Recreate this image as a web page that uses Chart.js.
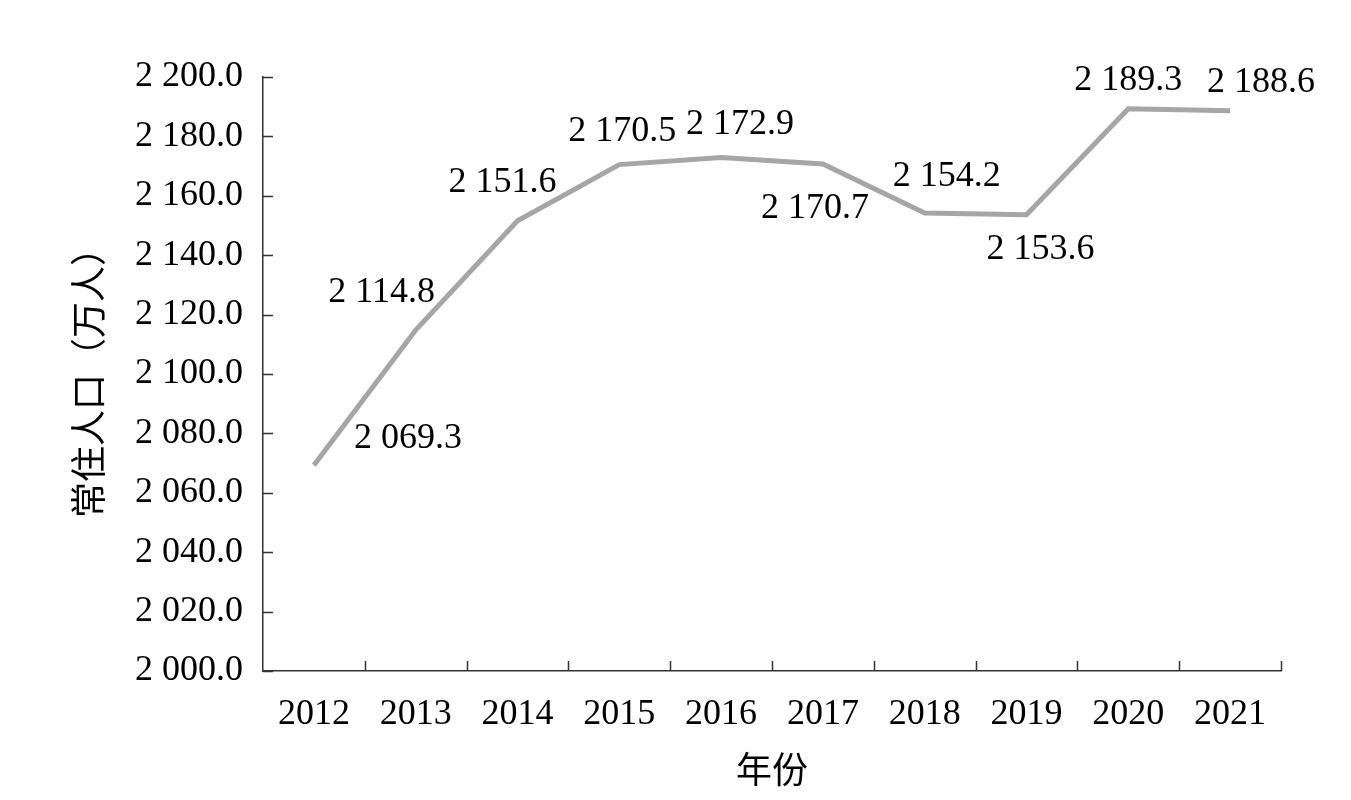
<!DOCTYPE html>
<html>
<head>
<meta charset="utf-8">
<script src="https://cdn.jsdelivr.net/npm/chart.js@4.4.1/dist/chart.umd.min.js"></script>
<style>
  html, body { margin: 0; background: #fff; }
</style>
</head>
<body>
<canvas id="chart-pop" width="1351" height="800"></canvas>
<script>
// data
const years = ['2012', '2013', '2014', '2015', '2016', '2017', '2018', '2019', '2020', '2021'];
const population = [2069.3, 2114.8, 2151.6, 2170.5, 2172.9, 2170.7, 2154.2, 2153.6, 2189.3, 2188.6];
const yMin = 2000;
const yMax = 2200;
const yStep = 20;

const serif = "'Liberation Serif', 'Times New Roman', 'Noto Sans CJK SC', serif";

// "2 200.0" style numbers
function fmt(v) {
  const parts = Number(v).toFixed(1).split('.');
  return parts[0].replace(/\B(?=(\d{3})+(?!\d))/g, ' ') + '.' + parts[1];
}

// labels sit around the points, not all on one side
const labelShift = [
  [94, -27], [-34, -37], [-15, -38], [3, -33], [19, -33],
  [-8, 45], [22, -36], [14, 35], [0, -28], [31, -28]
];

const valueLabels = {
  id: 'valueLabels',
  afterDatasetsDraw(chart) {
    const ctx = chart.ctx;
    const meta = chart.getDatasetMeta(0);
    ctx.save();
    ctx.font = '36px ' + serif;
    ctx.fillStyle = '#000';
    ctx.textAlign = 'center';
    ctx.textBaseline = 'middle';
    meta.data.forEach((pt, i) => {
      const s = labelShift[i];
      ctx.fillText(fmt(population[i]), pt.x + s[0], pt.y + s[1]);
    });
    ctx.restore();
  }
};

// tick marks point into the plot
const innerTicks = {
  id: 'innerTicks',
  afterDraw(chart) {
    const ctx = chart.ctx;
    const x = chart.scales.x;
    const y = chart.scales.y;
    const area = chart.chartArea;
    ctx.save();
    ctx.strokeStyle = '#333';
    ctx.lineWidth = 1.5;
    ctx.beginPath();
    y.ticks.forEach(t => {
      const py = Math.round(y.getPixelForValue(t.value)) + 0.5;
      ctx.moveTo(area.left, py);
      ctx.lineTo(area.left + 10, py);
    });
    for (let i = 1; i <= years.length; i++) {
      let px;
      if (i === years.length) px = area.right;
      else px = (x.getPixelForValue(i - 1) + x.getPixelForValue(i)) / 2;
      px = Math.round(px) + 0.5;
      ctx.moveTo(px, area.bottom);
      ctx.lineTo(px, area.bottom - 10);
    }
    ctx.stroke();
    ctx.restore();
  }
};

const chartPop = document.getElementById('chart-pop');

new Chart(chartPop, {
  type: 'line',
  data: {
    labels: years,
    datasets: [{
      label: '常住人口',
      data: population,
      borderColor: '#a6a6a6',
      borderWidth: 5,
      pointRadius: 0,
      tension: 0,
      fill: false
    }]
  },
  options: {
    responsive: false,
    animation: false,
    devicePixelRatio: 1,
    layout: {
      padding: { top: 77, right: 70, bottom: 0, left: 0 }
    },
    plugins: {
      legend: { display: false },
      tooltip: { enabled: false }
    },
    scales: {
      x: {
        offset: true,
        grid: { display: true, drawOnChartArea: false, drawTicks: false, offset: true },
        border: { display: true, color: '#333', width: 1.5 },
        ticks: {
          color: '#000',
          font: { family: serif, size: 36 },
          padding: 22,
          maxRotation: 0,
          autoSkip: false
        },
        title: {
          display: true,
          text: '年份',
          color: '#000',
          font: { family: serif, size: 36 },
          padding: { top: 0, bottom: 5 }
        },
        afterFit(scale) { scale.height = 129; }
      },
      y: {
        min: yMin,
        max: yMax,
        grid: { display: true, drawOnChartArea: false, drawTicks: false },
        border: { display: true, color: '#333', width: 1.5 },
        ticks: {
          stepSize: yStep,
          color: '#000',
          font: { family: serif, size: 36 },
          padding: 20,
          callback: v => fmt(v)
        },
        title: {
          display: true,
          text: '常住人口（万人）',
          color: '#000',
          font: { family: serif, size: 36 },
          padding: { top: 71, bottom: 0 }
        },
        afterFit(scale) { scale.width = 263; }
      }
    }
  },
  plugins: [valueLabels, innerTicks]
});
</script>
</body>
</html>
